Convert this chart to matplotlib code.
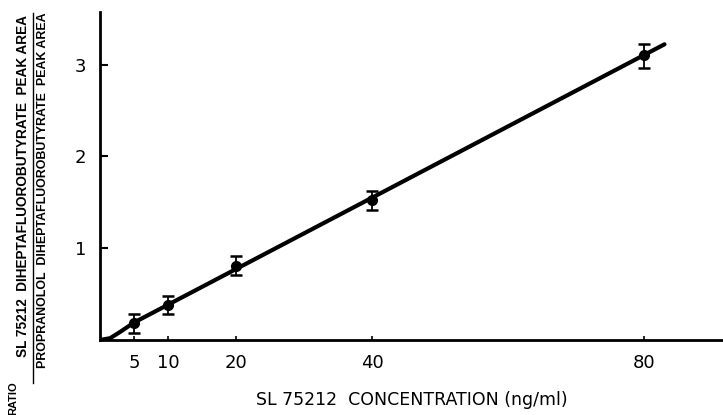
import numpy as np
import matplotlib.pyplot as plt

# data
conc = [5, 10, 20, 40, 80]
ratio = [0.18, 0.38, 0.81, 1.52, 3.10]
err_lo = [0.10, 0.10, 0.10, 0.10, 0.14]
err_hi = [0.10, 0.10, 0.10, 0.10, 0.12]

# drawn calibration line (hand-fitted, slight curve at origin)
fit_x = [0, 1.5, 3, 5, 83]
fit_y = [0, 0.02, 0.09, 0.19, 3.22]

xticks = [5, 10, 20, 40, 80]
yticks = [1, 2, 3]

fig = plt.figure(figsize=(7.23, 4.15), dpi=100)
ax = fig.add_axes([0.1383, 0.1807, 0.8617, 0.790])

ax.plot(fit_x, fit_y, color="black", lw=3, solid_capstyle="round")
ax.errorbar(conc, ratio, yerr=[err_lo, err_hi], fmt="o", color="black",
            ms=7, capsize=4, elinewidth=1.3, capthick=1.8)

ax.set_xlim(0, 91.6)
ax.set_ylim(0, 3.57)
ax.set_xticks(xticks)
ax.set_yticks(yticks)
ax.tick_params(axis="y", direction="in", length=6, width=1.5, pad=10, labelsize=13)
ax.tick_params(axis="x", direction="in", length=3, width=1.2, pad=10, labelsize=13)
for s in ["top", "right"]:
    ax.spines[s].set_visible(False)
for s in ["left", "bottom"]:
    ax.spines[s].set_linewidth(2)

ax.set_xlabel("SL 75212  CONCENTRATION (ng/ml)", fontsize=12.5, labelpad=14)

lab = dict(rotation=90, ha="center", va="center",
           family="Liberation Sans", fontweight="bold")
fig.text(0.032, 0.552, "SL 75212  DIHEPTAFLUOROBUTYRATE  PEAK AREA", fontsize=9.8, **lab)
fig.text(0.059, 0.542, "PROPRANOLOL  DIHEPTAFLUOROBUTYRATE  PEAK AREA", fontsize=8.9, **lab)
fig.add_artist(plt.Line2D([0.046, 0.046], [0.077, 0.969], color="black", lw=1))
fig.text(0.018, 0.041, "RATIO", fontsize=8, **lab)

fig.savefig("out.png", dpi=100)
